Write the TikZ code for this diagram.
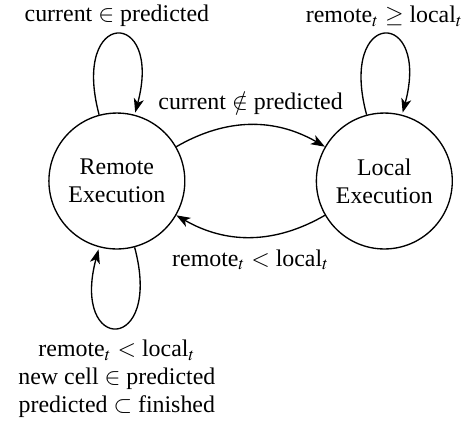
\documentclass[tikz,border=0pt]{standalone}
\usepackage{mathptmx}
\usepackage{fontspec}
\setmainfont{Liberation Serif}
\usetikzlibrary{positioning,arrows.meta}

\begin{document}
\begin{tikzpicture}[>={Stealth[length=2.2mm,width=1.6mm,inset=0.6mm]}, semithick, font=\fontsize{10.7}{12.6}\selectfont]
    \tikzstyle{exec}=[circle,draw,minimum size=2.14cm,align=center,inner sep=0pt]
    \useasboundingbox (0,0) rectangle (7.40,-6.68);

    \node at (1.84,-2.85) (remote) [exec] {Remote\\Execution};
    \node (local) [exec, right=2.05cm of remote] {Local\\Execution};

    \path[->] (remote) edge [loop above] node [above] {current $\in$ predicted} (remote);
    \path[->] (local) edge [loop above] node [above] {remote$_t$ $\geq$ local$_t$} (local);
    \path[->] (remote) edge [loop below] node [below=2pt, align=center] {remote$_t$ $<$ local$_t$\\new cell $\in$ predicted\\predicted $\subset$ finished} (remote);

    \path[->] (remote) edge [bend left=30] node [above=1pt] {current $\notin$ predicted} (local);
    \path[->] (local) edge [bend left=30] node [below=2pt] {remote$_t$ $<$ local$_t$} (remote);

\end{tikzpicture}
\end{document}
